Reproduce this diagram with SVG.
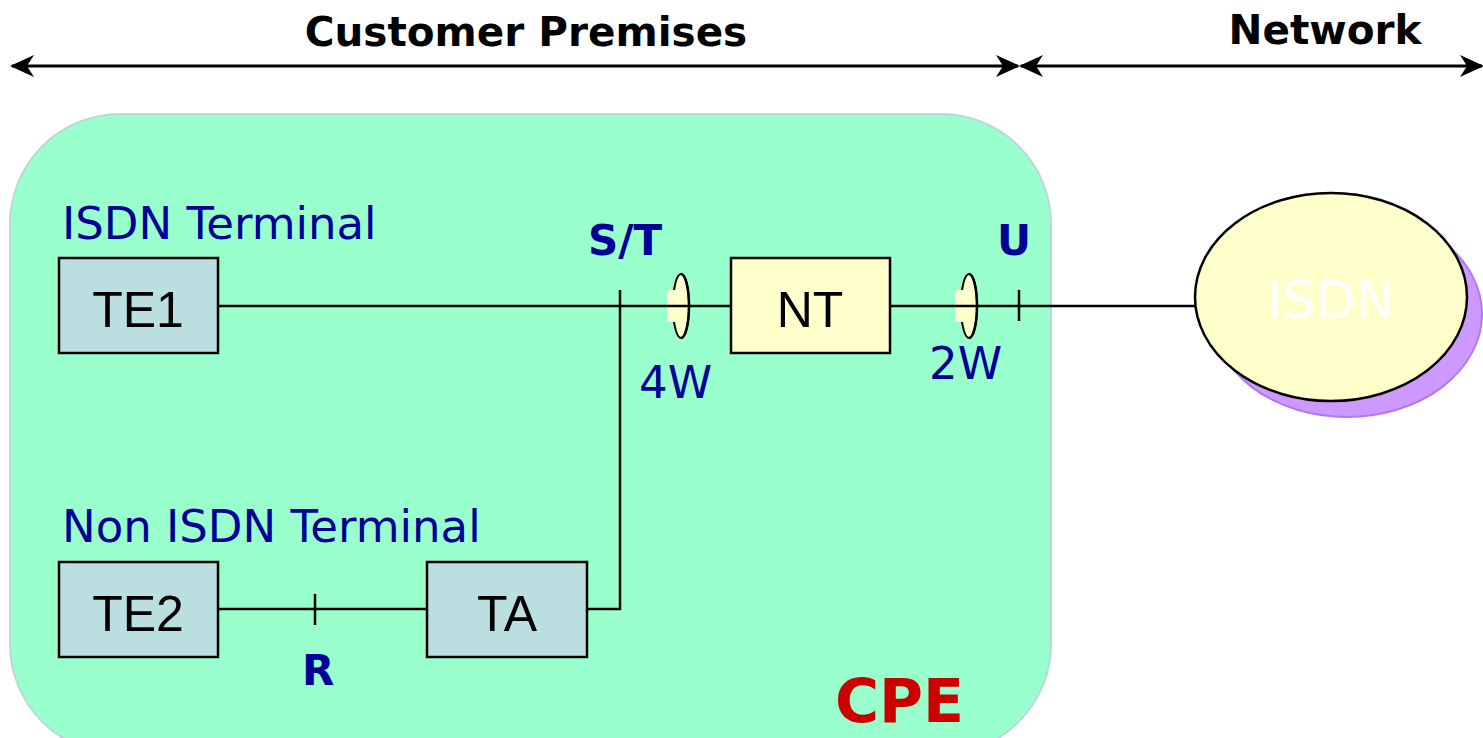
<svg xmlns="http://www.w3.org/2000/svg" width="1483" height="738" viewBox="0 0 1483 738">
<style>
text{font-family:"DejaVu Sans","Noto Sans",sans-serif}
.hdr{font-size:40.5px;font-weight:bold;fill:#000}
.lbl{font-size:45px;fill:#000099}
.ref{font-size:42px;font-weight:bold;fill:#000099}
.box{fill:#bbdfe0;stroke:#000;stroke-width:2.5}
.boxy{fill:#ffffcc;stroke:#000;stroke-width:2.5}
.bt{font-family:"Liberation Sans",Arial,sans-serif;font-size:50px;fill:#000;text-anchor:middle}
.ln{stroke:#000;stroke-width:2.5;fill:none}
.arr{stroke:#000;stroke-width:3;fill:none}
.oval{fill:#ffffcc;stroke:#000;stroke-width:2}
.patch{fill:#ffffcc}
</style>
<defs>
<marker id="ah" viewBox="0 0 24 24" refX="22" refY="12" markerWidth="24" markerHeight="24" markerUnits="userSpaceOnUse" orient="auto-start-reverse">
<path d="M0,1 L24,12 L0,23 L7,12 Z" fill="#000"/>
</marker>
</defs>
<rect width="1483" height="738" fill="#fff"/>
<g id="cpe">
<rect x="10" y="114" width="1041" height="640" rx="110" ry="110" fill="#99ffcc" stroke="#b8d8dc" stroke-width="2"/>
<text x="835" y="722" font-size="60" font-weight="bold" fill="#cc0000">CPE</text>
</g>
<g id="headers">
<text class="hdr" x="526" y="46" text-anchor="middle">Customer Premises</text>
<text class="hdr" x="1325" y="44" text-anchor="middle">Network</text>
</g>
<g id="connectors">
<line class="arr" x1="12" y1="66" x2="1018" y2="66" marker-start="url(#ah)" marker-end="url(#ah)"/>
<line class="arr" x1="1021" y1="66" x2="1482" y2="66" marker-start="url(#ah)" marker-end="url(#ah)"/>
<ellipse class="oval" cx="681" cy="306" rx="8" ry="32"/>
<rect class="patch" x="667" y="290" width="14" height="32"/>
<path class="ln" d="M681,274 A8,32 0 0 1 681,338" stroke-width="2"/>
<ellipse class="oval" cx="969" cy="306" rx="8" ry="32"/>
<rect class="patch" x="955" y="290" width="14" height="32"/>
<path class="ln" d="M969,274 A8,32 0 0 1 969,338" stroke-width="2"/>
<line class="ln" x1="218" y1="306" x2="731" y2="306"/>
<line class="ln" x1="890" y1="306" x2="1195" y2="306"/>
<polyline class="ln" points="620,290 620,609 587,609"/>
<line class="ln" x1="218" y1="609" x2="427" y2="609"/>
<line class="ln" x1="315" y1="594" x2="315" y2="625"/>
<line class="ln" x1="1019" y1="290" x2="1019" y2="321"/>
</g>
<g id="labels">
<text class="lbl" x="62" y="239">ISDN Terminal</text>
<text class="lbl" x="62" y="542">Non ISDN Terminal</text>
<text class="ref" x="588" y="255">S/T</text>
<text class="ref" x="997" y="255">U</text>
<text class="ref" x="302" y="685">R</text>
<text class="lbl" x="639" y="398">4W</text>
<text class="lbl" x="929" y="379">2W</text>
</g>
<g id="te1"><rect class="box" x="59" y="258" width="159" height="95"/><text class="bt" x="138" y="327">TE1</text></g>
<g id="nt"><rect class="boxy" x="731" y="258" width="159" height="95"/><text class="bt" x="810" y="327">NT</text></g>
<g id="te2"><rect class="box" x="59" y="562" width="159" height="95"/><text class="bt" x="138" y="631">TE2</text></g>
<g id="ta"><rect class="box" x="427" y="562" width="160" height="95"/><text class="bt" x="507" y="631">TA</text></g>
<g id="isdn">
<ellipse cx="1347" cy="314" rx="135" ry="103" fill="#cc99ff" stroke="#b377f5" stroke-width="2"/>
<ellipse cx="1331" cy="297" rx="136" ry="104" fill="#ffffcc" stroke="#000" stroke-width="2.5"/>
<text x="1331" y="318" font-size="52" fill="#fff" text-anchor="middle">ISDN</text>
</g>
</svg>
